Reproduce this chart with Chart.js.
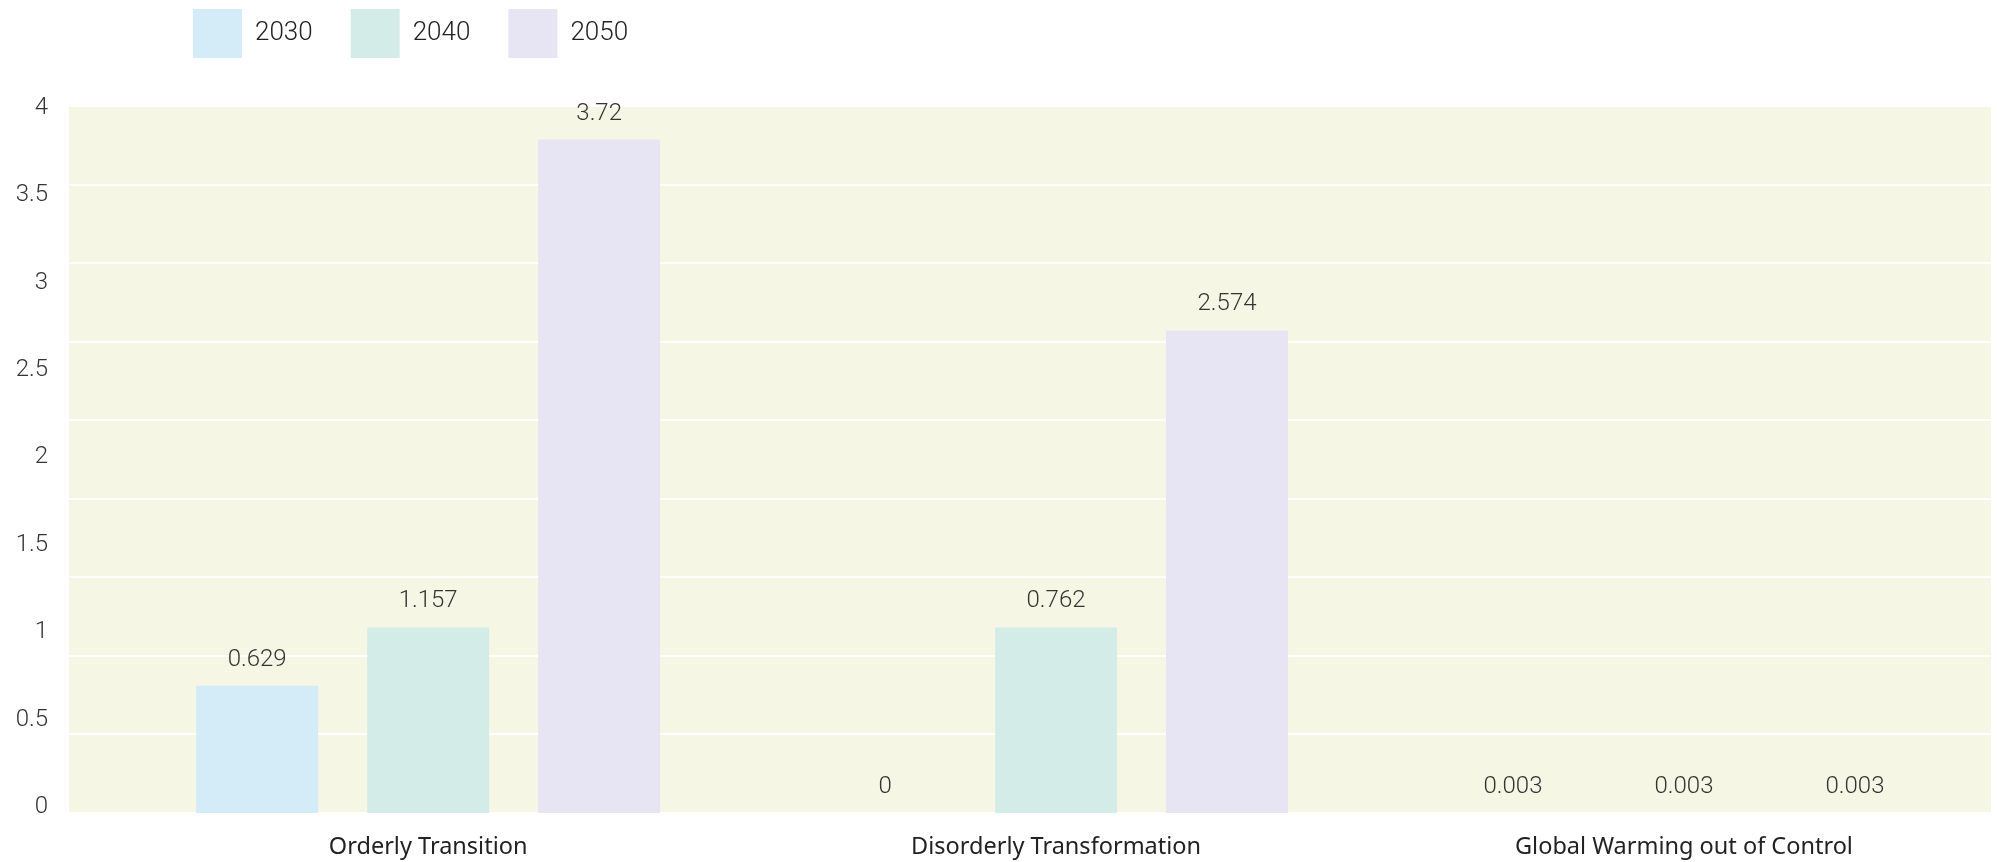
<!DOCTYPE html>
<html>
<head>
<meta charset="utf-8">
<script src="https://cdn.jsdelivr.net/npm/chart.js@4.4.1/dist/chart.umd.min.js"></script>
<style>
  html, body { margin: 0; padding: 0; background: #fff; }
  #wrap { width: 1997px; height: 862px; }
</style>
</head>
<body>
<div id="wrap"><canvas id="chart1"></canvas></div>
<script>
// categories and series
const categories = ['Orderly Transition', 'Disorderly Transformation', 'Global Warming out of Control'];
const years = ['2030', '2040', '2050'];

// bar heights as they are drawn in the picture
const values2030 = [0.72, 0, 0];
const values2040 = [1.05, 1.05, 0];
const values2050 = [3.81, 2.73, 0];

// numbers printed above the bars
const printed2030 = ['0.629', '0', '0.003'];
const printed2040 = ['1.157', '0.762', '0.003'];
const printed2050 = ['3.72', '2.574', '0.003'];

// y axis tick labels
const yTicks = [0, 0.5, 1, 1.5, 2, 2.5, 3, 3.5, 4];

const colors = ['#d4ebf8', '#d4ece8', '#e7e5f3'];
const printed = [printed2030, printed2040, printed2050];

// light plot background
const plotBg = {
    id: 'plotBg',
    beforeDraw(chart) {
        const a = chart.chartArea;
        const ctx = chart.ctx;
        ctx.save();
        ctx.fillStyle = '#f5f7e4';
        ctx.fillRect(a.left, a.top, a.right - a.left, a.bottom - a.top);
        ctx.restore();
    }
};

// move the legend to the top left
const legendShift = {
    id: 'legendShift',
    afterLayout(chart) {
        chart.legend.left = 155;
        chart.legend.top = -29;
    }
};

// value labels above the bars
const dataLabels = {
    id: 'dataLabels',
    afterDatasetsDraw(chart) {
        const ctx = chart.ctx;
        ctx.save();
        ctx.font = '300 24px Roboto';
        ctx.fillStyle = '#333';
        ctx.textAlign = 'center';
        ctx.textBaseline = 'middle';
        chart.data.datasets.forEach((ds, d) => {
            chart.getDatasetMeta(d).data.forEach((bar, i) => {
                ctx.fillText(printed[d][i], bar.x, bar.y - 26);
            });
        });
        ctx.restore();
    }
};

function initializeChart() {
    const series = [values2030, values2040, values2050];
    const datasets = series.map((vals, d) => ({
        label: years[d],
        data: vals.map((v, i) => ({ x: i, y: v })),
        backgroundColor: colors[d],
        borderColor: colors[d],
        borderWidth: 0,
        xAxisID: 'x',
        yAxisID: 'y',
        categoryPercentage: 0.817,
        barPercentage: 0.7135
    }));

    const ctx = document.getElementById('chart1').getContext('2d');
    new Chart(ctx, {
        type: 'bar',
        data: { datasets: datasets },
        plugins: [plotBg, legendShift, dataLabels],
        options: {
            responsive: true,
            maintainAspectRatio: false,
            animation: false,
            layout: { padding: { left: 15, right: 6, top: 9, bottom: 2 } },
            plugins: {
                tooltip: { enabled: false },
                legend: {
                    position: 'top',
                    align: 'start',
                    labels: {
                        boxWidth: 49,
                        boxHeight: 49,
                        padding: 38,
                        color: '#222',
                        font: { family: 'Roboto', size: 26, weight: 300 }
                    }
                }
            },
            scales: {
                x: {
                    type: 'linear',
                    offset: false,
                    min: -0.572,
                    max: 2.489,
                    afterBuildTicks: s => { s.ticks = categories.map((c, i) => ({ value: i })); },
                    afterFit: s => { s.paddingLeft = 0; s.paddingRight = 0; s.height = 47; },
                    ticks: {
                        callback: v => categories[v],
                        color: '#222',
                        font: { family: 'Noto Sans', size: 23.5 },
                        padding: 20,
                        maxRotation: 0,
                        autoSkip: false
                    },
                    grid: { display: false, drawTicks: false },
                    border: { display: false }
                },
                y: { min: 0, max: 4, display: false },
                yLabels: {
                    position: 'left',
                    min: -0.034,
                    max: 4.011,
                    afterBuildTicks: s => { s.ticks = yTicks.map(v => ({ value: v })); },
                    afterFit: s => { s.paddingTop = 0; s.paddingBottom = 0; s.width = 54; },
                    ticks: {
                        callback: v => String(v),
                        color: '#333',
                        font: { family: 'Roboto', size: 24, weight: 300 },
                        padding: 21
                    },
                    grid: { display: false, drawTicks: false },
                    border: { display: false }
                },
                yGrid: {
                    position: 'left',
                    min: 0,
                    max: 4.5,
                    ticks: { display: false, stepSize: 0.5 },
                    grid: { color: '#ffffff', lineWidth: 2, drawTicks: false },
                    border: { display: false }
                }
            }
        }
    });
}

window.onload = initializeChart;
</script>
</body>
</html>
